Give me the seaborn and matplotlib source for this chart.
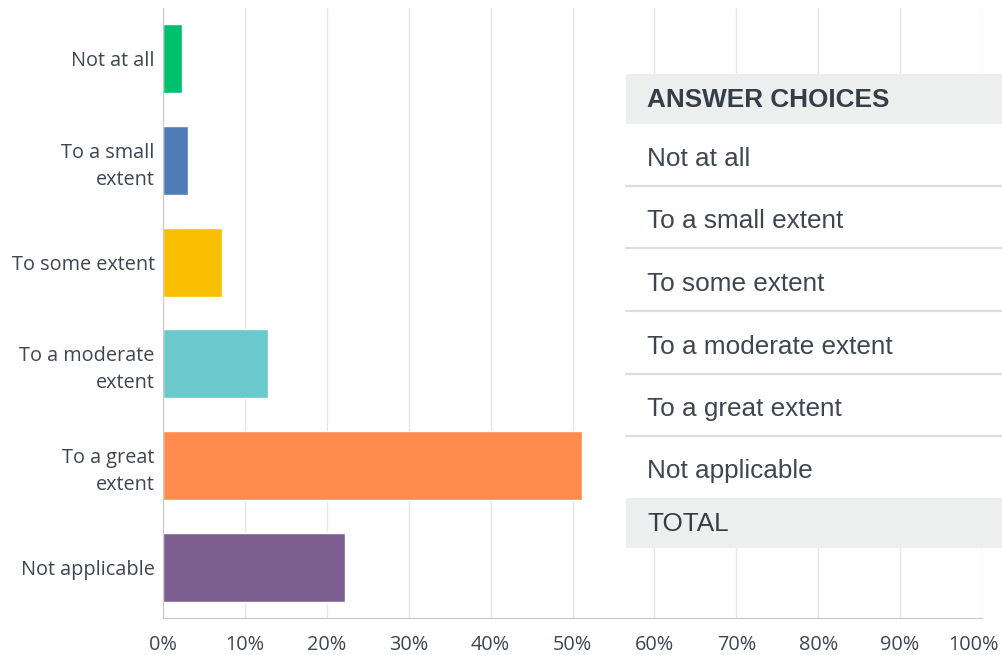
import pandas as pd
import seaborn as sns
import matplotlib.pyplot as plt
from matplotlib.patches import Rectangle
from matplotlib.lines import Line2D
from matplotlib.ticker import PercentFormatter
from matplotlib.transforms import ScaledTranslation

# answer choices and share of responses (%)
choices = ['Not at all', 'To a small extent', 'To some extent',
           'To a moderate extent', 'To a great extent', 'Not applicable']
tick_labels = ['Not at all', 'To a small\nextent', 'To some extent',
               'To a moderate\nextent', 'To a great\nextent', 'Not applicable']
shares = [2.3, 3.1, 7.2, 12.8, 51.2, 22.2]
colors = ['#00bf6f', '#507cb6', '#f9be00', '#6bc8cd', '#ff8b4f', '#7d5e90']

df = pd.DataFrame({'choice': choices, 'share': shares})

sns.set_style('white')
plt.rcParams['font.family'] = ['Open Sans', 'DejaVu Sans']

W, H = 1002, 655
fig = plt.figure(figsize=(W / 100, H / 100), dpi=100)
ax = fig.add_axes([163 / W, 1 - 618 / H, (982 - 163) / W, (618 - 8) / H])

sns.barplot(data=df, y='choice', x='share', hue='choice', palette=colors,
            saturation=1, legend=False, width=0.68, ax=ax, orient='h')

ax.set_xlim(0, 100)
ax.set_xticks(range(0, 101, 10))
ax.xaxis.set_major_formatter(PercentFormatter(decimals=0))
ax.grid(axis='x', color='#e6e6e6', linewidth=1)
ax.set_axisbelow(True)
ax.set_yticks(range(len(choices)))
ax.set_yticklabels(tick_labels, ha='right', linespacing=1.45)
ax.tick_params(axis='y', length=0, pad=6, labelsize=14.3, labelcolor='#3d4652')
ax.tick_params(axis='x', length=0, pad=12, labelsize=14.3, labelcolor='#3d4652')
ax.set_xlabel('')
ax.set_ylabel('')
for side in ['top', 'right']:
    ax.spines[side].set_visible(False)
ax.spines['left'].set_color('#c8c8c8')
ax.spines['bottom'].set_color('#c8c8c8')

# keep the 100% label inside the picture, as in the original
fig.canvas.draw()
last = ax.get_xticklabels()[-1]
last.set_transform(last.get_transform() + ScaledTranslation(-0.08, 0, fig.dpi_scale_trans))

# answer choices table drawn over the chart
tx0 = 626 / W
row_edges = [74, 124, 186, 248, 311, 374, 436, 498, 548]
header_bg = '#edeeee'


def fy(p):
    return 1 - p / H


fig.patches.append(Rectangle((tx0, fy(548)), 1 - tx0, fy(74) - fy(548),
                             transform=fig.transFigure, facecolor='white',
                             edgecolor='none', zorder=5))
fig.patches.append(Rectangle((tx0, fy(124)), 1 - tx0, fy(74) - fy(124),
                             transform=fig.transFigure, facecolor=header_bg,
                             edgecolor='none', zorder=6))
fig.patches.append(Rectangle((tx0, fy(548)), 1 - tx0, fy(498) - fy(548),
                             transform=fig.transFigure, facecolor=header_bg,
                             edgecolor='none', zorder=6))
for p in row_edges[2:7]:
    fig.lines.append(Line2D([tx0, 1], [fy(p), fy(p)], transform=fig.transFigure,
                            color='#dcdddd', linewidth=1.6, zorder=7))

tfont = ['Liberation Sans', 'DejaVu Sans']
fig.text(647 / W, fy(100), 'ANSWER CHOICES', fontsize=18.8, fontweight='bold',
         color='#333e48', va='center', family=tfont, zorder=8)
for i, c in enumerate(choices):
    yc = (row_edges[i + 1] + row_edges[i + 2]) / 2
    fig.text(647 / W, fy(yc + 4), c, fontsize=18.8, color='#3d4652',
             va='center', family=tfont, zorder=8)
fig.text(647 / W, fy(524), 'TOTAL', fontsize=18.8, color='#333e48',
         va='center', family=tfont, zorder=8)

fig.savefig('out.png', dpi=100)
